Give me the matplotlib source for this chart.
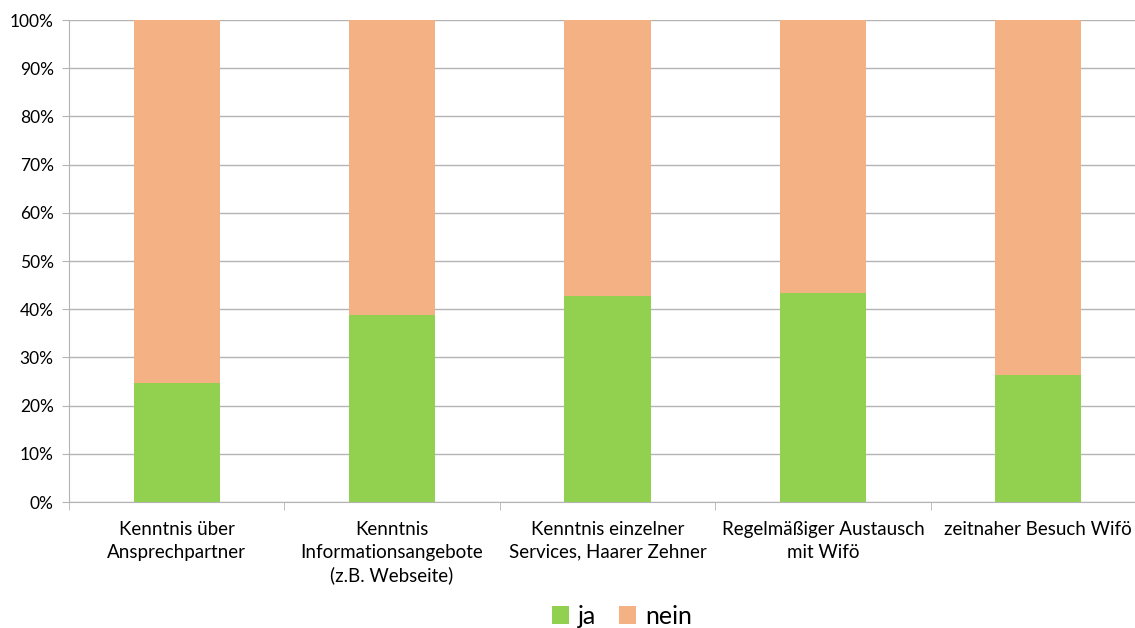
import numpy as np
import matplotlib.pyplot as plt
from matplotlib.ticker import PercentFormatter

plt.rcParams['font.family'] = ['Lato', 'DejaVu Sans']

categories = ['Kenntnis über\nAnsprechpartner',
              'Kenntnis\nInformationsangebote\n(z.B. Webseite)',
              'Kenntnis einzelner\nServices, Haarer Zehner',
              'Regelmäßiger Austausch\nmit Wifö',
              'zeitnaher Besuch Wifö']
ja = [24.7, 38.8, 42.8, 43.4, 26.3]
nein = [100 - v for v in ja]

fig = plt.figure(figsize=(11.35, 6.28), dpi=100)
ax = fig.add_axes([69 / 1135, 0.2006, 1077 / 1135, 0.7675])

x = np.arange(len(categories))
ax.bar(x, ja, width=0.4, color='#92D050', label='ja', zorder=3)
ax.bar(x, nein, width=0.4, bottom=ja, color='#F4B183', label='nein', zorder=3)

ax.set_xlim(-0.5, len(categories) - 0.5)
ax.set_ylim(0, 100)
ax.set_yticks(np.arange(0, 101, 10))
ax.yaxis.set_major_formatter(PercentFormatter(decimals=0))
ax.yaxis.grid(True, color='#B4B4B4', linewidth=1, zorder=0)

ax.set_xticks(x)
ax.set_xticklabels(categories, fontsize=13.5, linespacing=1.38)
ax.set_xticks(np.arange(-0.5, len(categories)), minor=True)
ax.tick_params(axis='x', which='major', length=0, pad=14)
ax.tick_params(axis='x', which='minor', length=6, color='#B4B4B4')
ax.tick_params(axis='y', length=5, color='#B4B4B4', labelsize=12.5, pad=6)

for s in ['top', 'right']:
    ax.spines[s].set_visible(False)
for s in ['left', 'bottom']:
    ax.spines[s].set_color('#B4B4B4')

fig.legend(loc='center', bbox_to_anchor=(622 / 1135, 1 - 616 / 628), ncol=2,
           frameon=False, fontsize=18, handlelength=0.7, handleheight=0.7,
           columnspacing=0.9, handletextpad=0.35)

fig.savefig('out.png', dpi=100)
